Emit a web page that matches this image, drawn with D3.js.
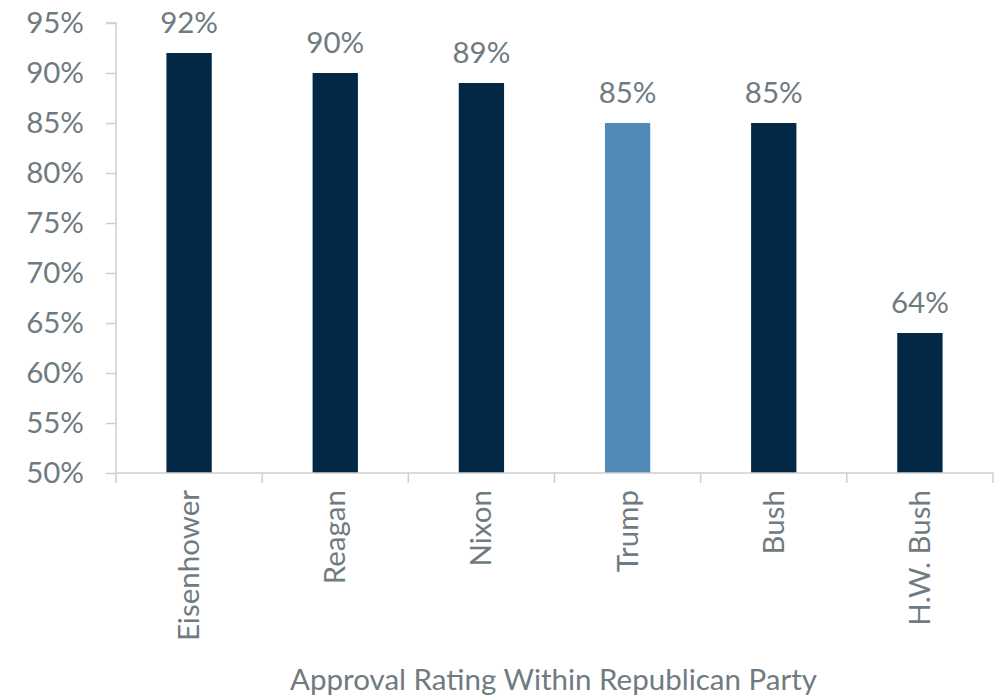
<!DOCTYPE html>
<html><head><meta charset="utf-8">
<script src="https://cdn.jsdelivr.net/npm/d3@7"></script>
<style>body{margin:0;background:#fff}svg{display:block}text{font-family:Lato,"Noto Sans",sans-serif;font-weight:400}</style>
</head><body>
<svg id="c" width="1002" height="698"></svg>
<script>
const categories = ["Eisenhower","Reagan","Nixon","Trump","Bush","H.W. Bush"];
const values = [92,90,89,85,85,64];
const highlight = ["Trump"];
const yTicks = [50,55,60,65,70,75,80,85,90,95];
const axisTitle = "Approval Rating Within Republican Party";

(function(){
const svg = d3.select("#c");
const mLeft = 116, mRight = 993, mTop = 23, mBottom = 473;
const textColor = "#6f7b80", axisColor = "#cfcfcf";
const fs = 29.5;
const x = d3.scaleBand().domain(categories).range([mLeft, mRight]).paddingInner(0.69).paddingOuter(0.345);
const y = d3.scaleLinear().domain([50,95]).range([mBottom, mTop]);

const ya = svg.append("g").attr("transform",`translate(${mLeft},0)`)
  .call(d3.axisLeft(y).tickValues(yTicks).tickFormat(d=>d+"%").tickSize(10).tickPadding(22));
ya.select(".domain").attr("stroke",axisColor).attr("stroke-width",1.5).attr("d",`M-10,${mTop}H0V${mBottom}`);
ya.selectAll(".tick line").attr("stroke",axisColor).attr("stroke-width",1.5);
ya.selectAll(".tick text").attr("fill",textColor).attr("font-size",fs).attr("font-family","Lato");

svg.selectAll("rect.bar").data(categories).join("rect").attr("class","bar")
  .attr("x",d=>x(d)).attr("width",x.bandwidth())
  .attr("y",(d,i)=>y(values[i])).attr("height",(d,i)=>mBottom-y(values[i]))
  .attr("fill",d=>highlight.includes(d)?"#5189b7":"#022846");

svg.selectAll("text.val").data(categories).join("text").attr("class","val")
  .attr("x",d=>x(d)+x.bandwidth()/2).attr("y",(d,i)=>y(values[i])-20)
  .attr("text-anchor","middle").attr("fill",textColor).attr("font-size",fs)
  .text((d,i)=>values[i]+"%");

const step = (mRight-mLeft)/categories.length;
const xa = svg.append("g");
xa.append("line").attr("x1",mLeft).attr("x2",mRight).attr("y1",mBottom).attr("y2",mBottom).attr("stroke",axisColor).attr("stroke-width",1.5);
xa.selectAll("line.t").data(d3.range(categories.length+1)).join("line").attr("class","t")
  .attr("x1",i=>mLeft+i*step).attr("x2",i=>mLeft+i*step).attr("y1",mBottom).attr("y2",mBottom+10)
  .attr("stroke",axisColor).attr("stroke-width",1.5);
xa.selectAll("text").data(categories).join("text")
  .attr("transform",d=>`translate(${x(d)+x.bandwidth()/2+10},${mBottom+17}) rotate(-90)`)
  .attr("text-anchor","end").attr("fill",textColor).attr("font-size",fs).text(d=>d);

svg.append("text").attr("x",(mLeft+mRight)/2-1).attr("y",690).attr("text-anchor","middle")
  .attr("fill",textColor).attr("font-size",fs).text(axisTitle);
})();
</script>
</body></html>
